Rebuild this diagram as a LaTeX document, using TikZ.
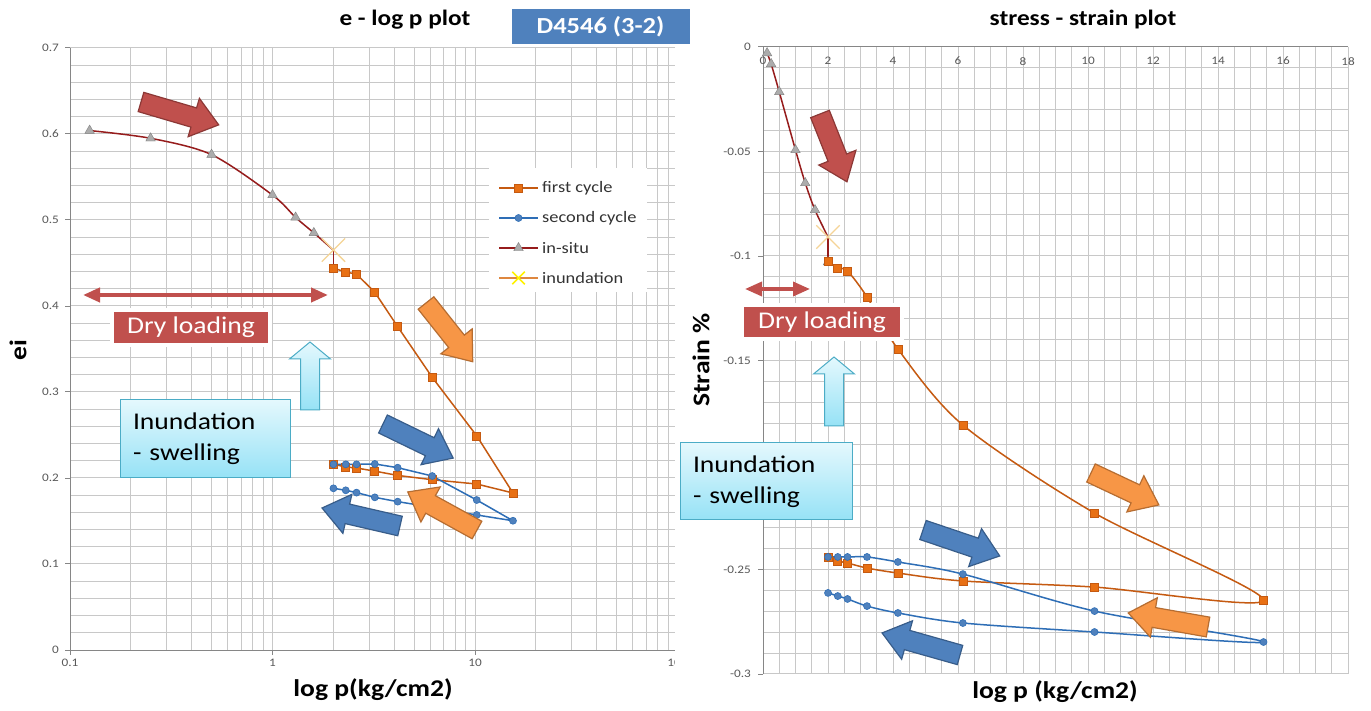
\documentclass[tikz,border=0pt]{standalone}
\usepackage{fontspec}
\setmainfont{Carlito}[FakeStretch=1.15]
\usetikzlibrary{arrows.meta,shapes.geometric,shapes.misc,shadows}
\definecolor{GridGray}{RGB}{200,200,200}
\definecolor{AxisGray}{RGB}{134,134,134}
\definecolor{TickGray}{RGB}{89,89,89}
\definecolor{InSitu}{RGB}{150,28,28}
\definecolor{FirstLine}{RGB}{197,90,17}
\definecolor{FirstMark}{RGB}{232,112,20}
\definecolor{SecondLine}{RGB}{46,110,182}
\definecolor{SecondMark}{RGB}{79,129,189}
\definecolor{ArrowRed}{RGB}{192,80,77}
\definecolor{ArrowRedDark}{RGB}{140,56,54}
\definecolor{ArrowOrange}{RGB}{247,150,70}
\definecolor{ArrowOrangeDark}{RGB}{182,109,49}
\definecolor{ArrowBlue}{RGB}{79,129,189}
\definecolor{ArrowBlueDark}{RGB}{56,93,138}
\definecolor{CyanLight}{RGB}{228,248,253}
\definecolor{CyanDeep}{RGB}{150,226,246}
\definecolor{CyanEdge}{RGB}{75,172,198}
\definecolor{CrossTan}{RGB}{245,212,150}

\begin{document}
\begin{tikzpicture}[x=1pt, y=1pt,
    gridline/.style={GridGray, line width=1pt},
    axisline/.style={AxisGray, line width=1pt},
    ticklabel/.style={TickGray, font=\fontsize{11.5}{13}\selectfont, inner sep=1pt},
    legendtext/.style={black!80, font=\fontsize{16}{18}\selectfont, anchor=west, inner sep=0pt},
    axistitle/.style={font=\bfseries\fontsize{24}{27}\selectfont},
    charttitle/.style={font=\bfseries\fontsize{22}{25}\selectfont},
    insitu/.style={InSitu, line width=1.5pt},
    firstline/.style={FirstLine, line width=1.5pt},
    secondline/.style={SecondLine, line width=1.5pt},
    sqmark/.style={rectangle, minimum size=8pt, inner sep=0pt, fill=FirstMark, draw=FirstLine, line width=0.6pt},
    dotmark/.style={circle, minimum size=7pt, inner sep=0pt, fill=SecondMark, draw=SecondLine, line width=0.6pt},
    trimark/.style={regular polygon, regular polygon sides=3, minimum size=11pt, inner sep=0pt, fill=gray!65, draw=gray},
    wetmark/.style={cross out, minimum size=22pt, inner sep=0pt, draw=CrossTan, line width=1.3pt},
    pics/blockarrow/.style={code={
        \path[pic actions] (0,-10) -- ({#1-26},-10) -- ({#1-26},-20) -- (#1,0)
            -- ({#1-26},20) -- ({#1-26},10) -- (0,10) -- cycle;
    }},
    pics/wetarrow/.style={code={
        \path[top color=CyanLight, bottom color=CyanDeep, draw=CyanEdge, line width=1pt]
            (-9.5,0) -- (-9.5,{#1-17}) -- (-20.5,{#1-17}) -- (0,#1)
            -- (20.5,{#1-17}) -- (9.5,{#1-17}) -- (9.5,0) -- cycle;
    }},
    redarrow/.style={fill=ArrowRed, draw=ArrowRedDark, line width=1.2pt},
    orangearrow/.style={fill=ArrowOrange, draw=ArrowOrangeDark, line width=1.2pt},
    bluearrow/.style={fill=ArrowBlue, draw=ArrowBlueDark, line width=1.2pt},
    dryarrow/.style={ArrowRed, line width=4pt, arrows={Triangle[length=17pt,width=14pt]-Triangle[length=17pt,width=14pt]}},
    drybox/.style={fill=ArrowRed, draw=white, line width=3.5pt, text=white, inner sep=0pt,
        font=\fontsize{24}{28}\selectfont, drop shadow={opacity=0.25, shadow xshift=1pt, shadow yshift=-1.5pt}},
    wetbox/.style={top color=CyanLight, bottom color=CyanDeep, draw=CyanEdge, line width=1pt,
        align=left, inner xsep=13pt, inner ysep=0pt, font=\fontsize{24}{31}\selectfont},
    idbox/.style={fill=ArrowBlue, draw=white, line width=3pt, text=white, inner sep=0pt,
        font=\bfseries\fontsize{23}{26}\selectfont, drop shadow={opacity=0.25, shadow xshift=1pt, shadow yshift=-1.5pt}}]

    \useasboundingbox (0,0) rectangle (1371,710);
    \fill[white] (0,0) rectangle (1371,710);

    % e - log p chart
    \begin{scope}[shift={(272.5,60)}, x=202.5pt, y=860pt]
        % Grid
        \foreach \d in {-1,0,1} {
            \foreach \k in {2,...,9} {
                \draw[gridline] ({\d+log10(\k)},0) -- ({\d+log10(\k)},0.7);
            }
        }
        \foreach \d in {0,1,2} {
            \draw[gridline] (\d,0) -- (\d,0.7);
        }
        \foreach \i in {1,...,35} {
            \draw[gridline] (-1,{\i*0.02}) -- (2,{\i*0.02});
        }
        % Axes
        \draw[axisline] (-1,0.7) -- (-1,0) -- (2,0);
        \foreach \v in {0,0.1,0.2,0.3,0.4,0.5,0.6,0.7} {
            \draw[axisline] (-1,\v) -- ++(-5pt,0);
            \node[ticklabel, anchor=east] at ([xshift=-10pt]-1,\v) {\v};
        }
        \foreach \u/\t in {-1/0.1, 0/1, 1/10, 2/100} {
            \draw[axisline] (\u,0) -- ++(0,-5pt);
            \node[ticklabel, below=8pt] at (\u,0) {\t};
        }
        % Data points
        \foreach \p/\e [count=\i] in {0.125/0.604, 0.25/0.595, 0.5/0.576, 1/0.529, 1.3/0.503, 1.6/0.485, 2/0.465}
            \coordinate (isL\i) at ({log10(\p)},\e);
        \foreach \p/\e [count=\i] in {2/0.444, 2.3/0.4395, 2.6/0.437, 3.2/0.416, 4.15/0.376, 6.15/0.317,
                10.2/0.249, 15.4/0.1826, 10.2/0.193, 6.15/0.198, 4.15/0.203, 3.2/0.208, 2.6/0.2116, 2.3/0.2128, 2/0.216}
            \coordinate (fcL\i) at ({log10(\p)},\e);
        \foreach \p/\e [count=\i] in {2/0.2159, 2.3/0.2159, 2.6/0.2159, 3.2/0.2163, 4.15/0.212, 6.15/0.2023,
                10.2/0.1744, 15.4/0.1503, 10.2/0.157, 6.15/0.166, 4.15/0.1725, 3.2/0.1775, 2.6/0.183, 2.3/0.1857, 2/0.188}
            \coordinate (scL\i) at ({log10(\p)},\e);
        % Curves
        \draw[insitu] plot[smooth] coordinates {(isL1) (isL2) (isL3) (isL4) (isL5) (isL6) (isL7)};
        \draw[insitu] (isL7) -- (fcL1);
        \draw[firstline] (fcL1) \foreach \i in {2,...,15} { -- (fcL\i) };
        \draw[secondline] (scL1) \foreach \i in {2,...,15} { -- (scL\i) };
        \foreach \i in {1,...,6} \node[trimark] (isLm\i) at (isL\i) {};
        \node[wetmark] (wetL) at (isL7) {};
        \foreach \i in {1,...,15} \node[sqmark] (fcLm\i) at (fcL\i) {};
        \foreach \i in {1,...,15} \node[dotmark] (scLm\i) at (scL\i) {};
    \end{scope}

    % Legend
    \node[fill=white, minimum width=158pt, minimum height=124pt, inner sep=0pt] (legendBox) at (568,480) {};
    \draw[firstline] (499,522) -- (538,522);
    \node[sqmark] (legFirst) at (518.5,522) {};
    \node[legendtext] (legFirstText) at (542,522) {first cycle};
    \draw[secondline] (499,492) -- (538,492);
    \node[dotmark] (legSecond) at (518.5,492) {};
    \node[legendtext] (legSecondText) at (542,492) {second cycle};
    \draw[insitu] (499,462) -- (538,462);
    \node[trimark] (legInSitu) at (518.5,462) {};
    \node[legendtext] (legInSituText) at (542,462) {in-situ};
    \draw[ArrowOrange!90!black, line width=1.5pt] (499,432) -- (538,432);
    \node[cross out, draw=yellow, minimum size=11pt, line width=1.5pt] (legWet) at (518.5,432) {};
    \node[legendtext] (legWetText) at (542,432) {inundation};

    % Annotations, left chart
    \pic[redarrow, rotate=-16.4] (loadArrowL) at (141,608) {blockarrow=81};
    \pic[orangearrow, rotate=-51.5] (firstArrowL) at (426,407) {blockarrow=75};
    \pic[bluearrow, rotate=-25.9] (secondArrowL) at (383,286) {blockarrow=78};
    \pic[bluearrow, rotate=167] (secondBackL) at (400,184) {blockarrow=80};
    \pic[orangearrow, rotate=151.2] (firstBackL) at (477,180) {blockarrow=79};
    \coordinate (dryStartL) at (83,415);
    \coordinate (dryEndL) at (328,415);
    \draw[dryarrow] (dryStartL) -- (dryEndL);
    \node[drybox, minimum width=158pt, minimum height=35pt] (dryBoxL) at (191,382.5) {Dry loading};
    \pic (wetArrowL) at (310,300) {wetarrow=68};
    \node[wetbox, text width=144pt, minimum height=78pt] (wetBoxL) at (205,271) {Inundation\\- swelling};

    % stress - strain chart
    \fill[white] (675,0) rectangle (1371,710);
    \begin{scope}[shift={(763,663)}, x=32.5pt, y=2090pt]
        % Grid
        \foreach \i in {1,...,36} {
            \draw[gridline] ({\i/2},0) -- ({\i/2},-0.3);
        }
        \foreach \i in {1,...,30} {
            \draw[gridline] (0,{-\i/100}) -- (18,{-\i/100});
        }
        % Axes
        \draw[axisline] (18,0) -- (0,0) -- (0,-0.3);
        \foreach \v in {0,2,...,18} {
            \node[ticklabel, below=9pt] at (\v,0) {\v};
        }
        \foreach \v in {0,-0.05,-0.1,-0.15,-0.2,-0.25,-0.3} {
            \draw[axisline] (0,\v) -- ++(-5pt,0);
        }
        \foreach \v in {0,-0.05,-0.1,-0.15,-0.25,-0.3} {
            \node[ticklabel, anchor=east] at ([xshift=-11pt]0,\v) {\v};
        }
        % Data points
        \foreach \p/\s [count=\i] in {0.125/-0.0029, 0.25/-0.0081, 0.5/-0.0215, 1/-0.0493, 1.3/-0.0651, 1.6/-0.078, 2/-0.0909, 2/-0.1029}
            \coordinate (isR\i) at (\p,\s);
        \foreach \p/\s [count=\i] in {2/-0.1024, 2.3/-0.1057, 2.6/-0.1072, 3.2/-0.1196, 4.15/-0.1445, 6.15/-0.1809,
                10.2/-0.223, 15.4/-0.2646, 10.2/-0.2584, 6.15/-0.2555, 4.15/-0.2517, 3.2/-0.2493, 2.6/-0.2469, 2.3/-0.2459, 2/-0.244}
            \coordinate (fcR\i) at (\p,\s);
        \foreach \p/\s [count=\i] in {2/-0.244, 2.3/-0.244, 2.6/-0.244, 3.2/-0.244, 4.15/-0.2464, 6.15/-0.2522,
                10.2/-0.2699, 15.4/-0.2847, 10.2/-0.2799, 6.15/-0.2756, 4.15/-0.2708, 3.2/-0.2675, 2.6/-0.2641, 2.3/-0.2627, 2/-0.2612}
            \coordinate (scR\i) at (\p,\s);
        % Curves
        \draw[insitu] plot[smooth] coordinates {(isR1) (isR2) (isR3) (isR4) (isR5) (isR6) (isR7)};
        \draw[insitu] (isR7) -- (isR8);
        \draw[firstline] plot[smooth] coordinates {(fcR1) (fcR2) (fcR3) (fcR4) (fcR5) (fcR6) (fcR7) (fcR8)
            (fcR9) (fcR10) (fcR11) (fcR12) (fcR13) (fcR14) (fcR15)};
        \draw[secondline] plot[smooth] coordinates {(scR1) (scR2) (scR3) (scR4) (scR5) (scR6) (scR7) (scR8)
            (scR9) (scR10) (scR11) (scR12) (scR13) (scR14) (scR15)};
        \foreach \i in {1,...,6,8} \node[trimark] (isRm\i) at (isR\i) {};
        \node[wetmark] (wetR) at (isR7) {};
        \foreach \i in {1,...,15} \node[sqmark] (fcRm\i) at (fcR\i) {};
        \foreach \i in {1,...,15} \node[dotmark] (scRm\i) at (scR\i) {};
    \end{scope}

    % Annotations, right chart
    \pic[redarrow, rotate=-68.3] (loadArrowR) at (820,596) {blockarrow=73};
    \pic[orangearrow, rotate=-25.2] (firstArrowR) at (1091,237) {blockarrow=75};
    \pic[bluearrow, rotate=-18.7] (secondArrowR) at (923,180) {blockarrow=81};
    \pic[orangearrow, rotate=170] (firstBackR) at (1208,83) {blockarrow=81};
    \pic[bluearrow, rotate=164.2] (secondBackR) at (960,55) {blockarrow=81};
    \coordinate (dryStartR) at (745,421);
    \coordinate (dryEndR) at (810,421);
    \draw[dryarrow, line width=3.5pt] (dryStartR) -- (dryEndR);
    \node[drybox, minimum width=160pt, minimum height=34pt] (dryBoxR) at (822,388) {Dry loading};
    \pic (wetArrowR) at (834,284) {wetarrow=69};
    \node[wetbox, text width=146pt, minimum height=77pt] (wetBoxR) at (766,228.5) {Inundation\\- swelling};

    % Titles and labels
    \node[charttitle] (titleLeft) at (405,690) {e - log p plot};
    \node[charttitle] (titleRight) at (1083,690) {stress - strain plot};
    \node[idbox, minimum width=181pt, minimum height=38pt] (sampleId) at (600.5,683) {D4546 (3-2)};
    \node[axistitle, rotate=90] (eiLabel) at (18,360) {ei};
    \node[axistitle] (xLabelLeft) at (373,20) {log p(kg/cm2)};
    \node[axistitle, rotate=90] (strainLabel) at (701,350) {Strain \%};
    \node[axistitle] (xLabelRight) at (1055,18) {log p (kg/cm2)};
\end{tikzpicture}
\end{document}
